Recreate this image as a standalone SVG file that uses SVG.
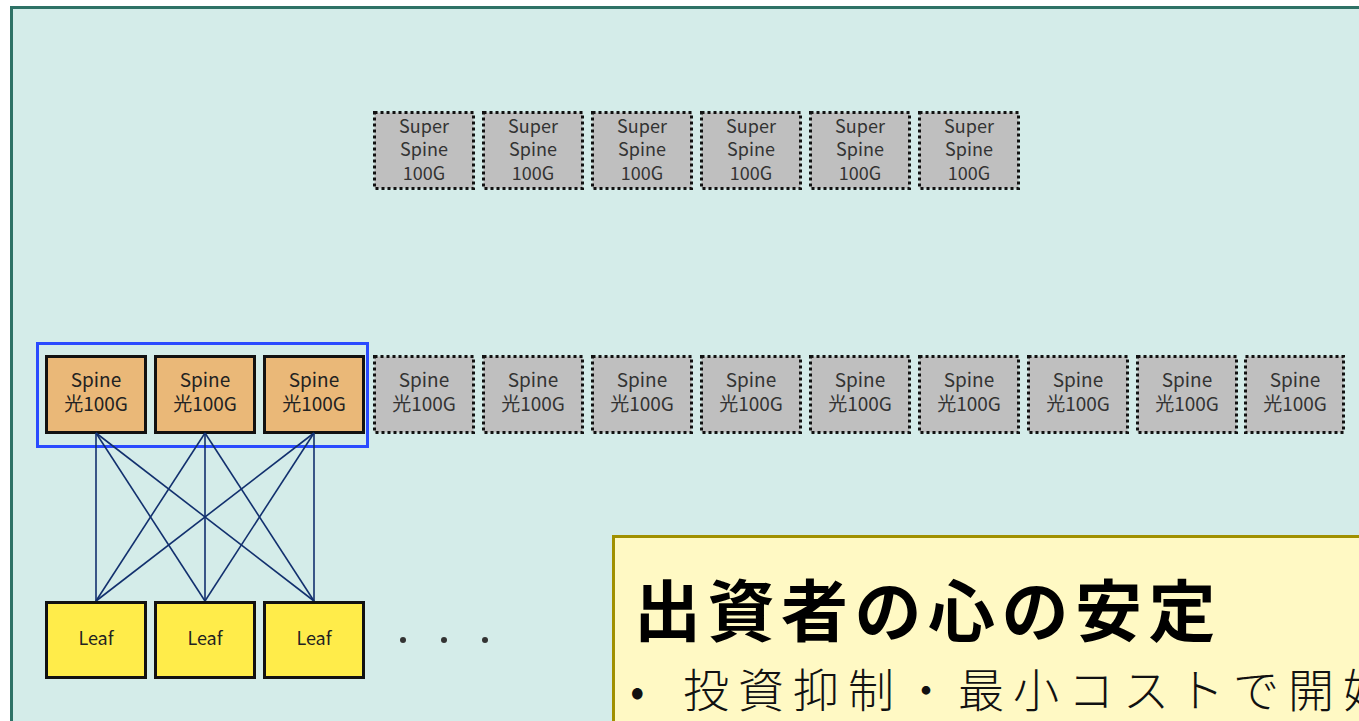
<svg xmlns="http://www.w3.org/2000/svg" width="1359" height="721" viewBox="0 0 1359 721">
<style>
.t{font-family:"Noto Sans CJK JP","Noto Sans",sans-serif;text-anchor:middle}
.g rect{fill:#bfbfbf;stroke:#111;stroke-width:3;stroke-dasharray:3 3}
.g text{fill:#333;font-size:19px}
.ss text{font-size:18px}
.s rect{fill:#eab878;stroke:#111;stroke-width:3}
.s text{fill:#222;font-size:19px}
.l rect{fill:#ffec4a;stroke:#111;stroke-width:3}
.l text{fill:#222;font-size:18px}
.c line{stroke:#12306e;stroke-width:1.6}
</style>
<rect width="1359" height="721" fill="#ffffff"/>
<rect id="frame" x="11.5" y="7.5" width="1400" height="760" fill="#d4ece9" stroke="#2e7266" stroke-width="3"/>
<g id="superspines" class="t g ss">
<g id="ss1"><rect x="374.5" y="112.5" width="99" height="76"/><text x="424" y="133">Super</text><text x="424" y="156">Spine</text><text x="424" y="180">100G</text></g>
<g id="ss2"><rect x="483.5" y="112.5" width="99" height="76"/><text x="533" y="133">Super</text><text x="533" y="156">Spine</text><text x="533" y="180">100G</text></g>
<g id="ss3"><rect x="592.5" y="112.5" width="99" height="76"/><text x="642" y="133">Super</text><text x="642" y="156">Spine</text><text x="642" y="180">100G</text></g>
<g id="ss4"><rect x="701.5" y="112.5" width="99" height="76"/><text x="751" y="133">Super</text><text x="751" y="156">Spine</text><text x="751" y="180">100G</text></g>
<g id="ss5"><rect x="810.5" y="112.5" width="99" height="76"/><text x="860" y="133">Super</text><text x="860" y="156">Spine</text><text x="860" y="180">100G</text></g>
<g id="ss6"><rect x="919.5" y="112.5" width="99" height="76"/><text x="969" y="133">Super</text><text x="969" y="156">Spine</text><text x="969" y="180">100G</text></g>
</g>
<rect id="group" x="37.5" y="343.5" width="330" height="103" fill="none" stroke="#2a4bff" stroke-width="3"/>
<g id="spines" class="t s">
<g id="sp1"><rect x="46.5" y="356.5" width="99" height="76"/><text x="96" y="387">Spine</text><text x="96" y="411">光100G</text></g>
<g id="sp2"><rect x="155.5" y="356.5" width="99" height="76"/><text x="205" y="387">Spine</text><text x="205" y="411">光100G</text></g>
<g id="sp3"><rect x="264.5" y="356.5" width="99" height="76"/><text x="314" y="387">Spine</text><text x="314" y="411">光100G</text></g>
</g>
<g id="spinesFuture" class="t g">
<g id="sg1"><rect x="374.5" y="356.5" width="99" height="76"/><text x="424" y="387">Spine</text><text x="424" y="411">光100G</text></g>
<g id="sg2"><rect x="483.5" y="356.5" width="99" height="76"/><text x="533" y="387">Spine</text><text x="533" y="411">光100G</text></g>
<g id="sg3"><rect x="592.5" y="356.5" width="99" height="76"/><text x="642" y="387">Spine</text><text x="642" y="411">光100G</text></g>
<g id="sg4"><rect x="701.5" y="356.5" width="99" height="76"/><text x="751" y="387">Spine</text><text x="751" y="411">光100G</text></g>
<g id="sg5"><rect x="810.5" y="356.5" width="99" height="76"/><text x="860" y="387">Spine</text><text x="860" y="411">光100G</text></g>
<g id="sg6"><rect x="919.5" y="356.5" width="99" height="76"/><text x="969" y="387">Spine</text><text x="969" y="411">光100G</text></g>
<g id="sg7"><rect x="1028.5" y="356.5" width="99" height="76"/><text x="1078" y="387">Spine</text><text x="1078" y="411">光100G</text></g>
<g id="sg8"><rect x="1137.5" y="356.5" width="99" height="76"/><text x="1187" y="387">Spine</text><text x="1187" y="411">光100G</text></g>
<g id="sg9"><rect x="1245.5" y="356.5" width="98" height="76"/><text x="1295" y="387">Spine</text><text x="1295" y="411">光100G</text></g>
</g>
<g id="connectors" class="c">
<line x1="96" y1="433" x2="96" y2="601"/><line x1="96" y1="433" x2="205" y2="601"/><line x1="96" y1="433" x2="314" y2="601"/>
<line x1="205" y1="433" x2="96" y2="601"/><line x1="205" y1="433" x2="205" y2="601"/><line x1="205" y1="433" x2="314" y2="601"/>
<line x1="314" y1="433" x2="96" y2="601"/><line x1="314" y1="433" x2="205" y2="601"/><line x1="314" y1="433" x2="314" y2="601"/>
</g>
<g id="leaves" class="t l">
<g id="leaf1"><rect x="46.5" y="602.5" width="99" height="75"/><text x="96" y="645">Leaf</text></g>
<g id="leaf2"><rect x="155.5" y="602.5" width="99" height="75"/><text x="205" y="645">Leaf</text></g>
<g id="leaf3"><rect x="264.5" y="602.5" width="99" height="75"/><text x="314" y="645">Leaf</text></g>
</g>
<g id="dots" fill="#333"><circle cx="403" cy="640" r="3"/><circle cx="444" cy="640" r="3"/><circle cx="485" cy="640" r="3"/></g>
<g id="note">
<rect x="613.5" y="536.5" width="800" height="240" fill="#fff9c4" stroke="#a09000" stroke-width="3"/>
<text x="634" y="636" font-family="'Noto Sans CJK JP',sans-serif" font-weight="bold" font-size="67" letter-spacing="6.5" fill="#000">出資者の心の安定</text>
<text x="630" y="707" font-family="'Noto Sans CJK JP',sans-serif" font-weight="300" font-size="46" fill="#111"><tspan>•</tspan><tspan x="683" letter-spacing="9">投資抑制・最小コストで開始</tspan></text>
</g>
</svg>
